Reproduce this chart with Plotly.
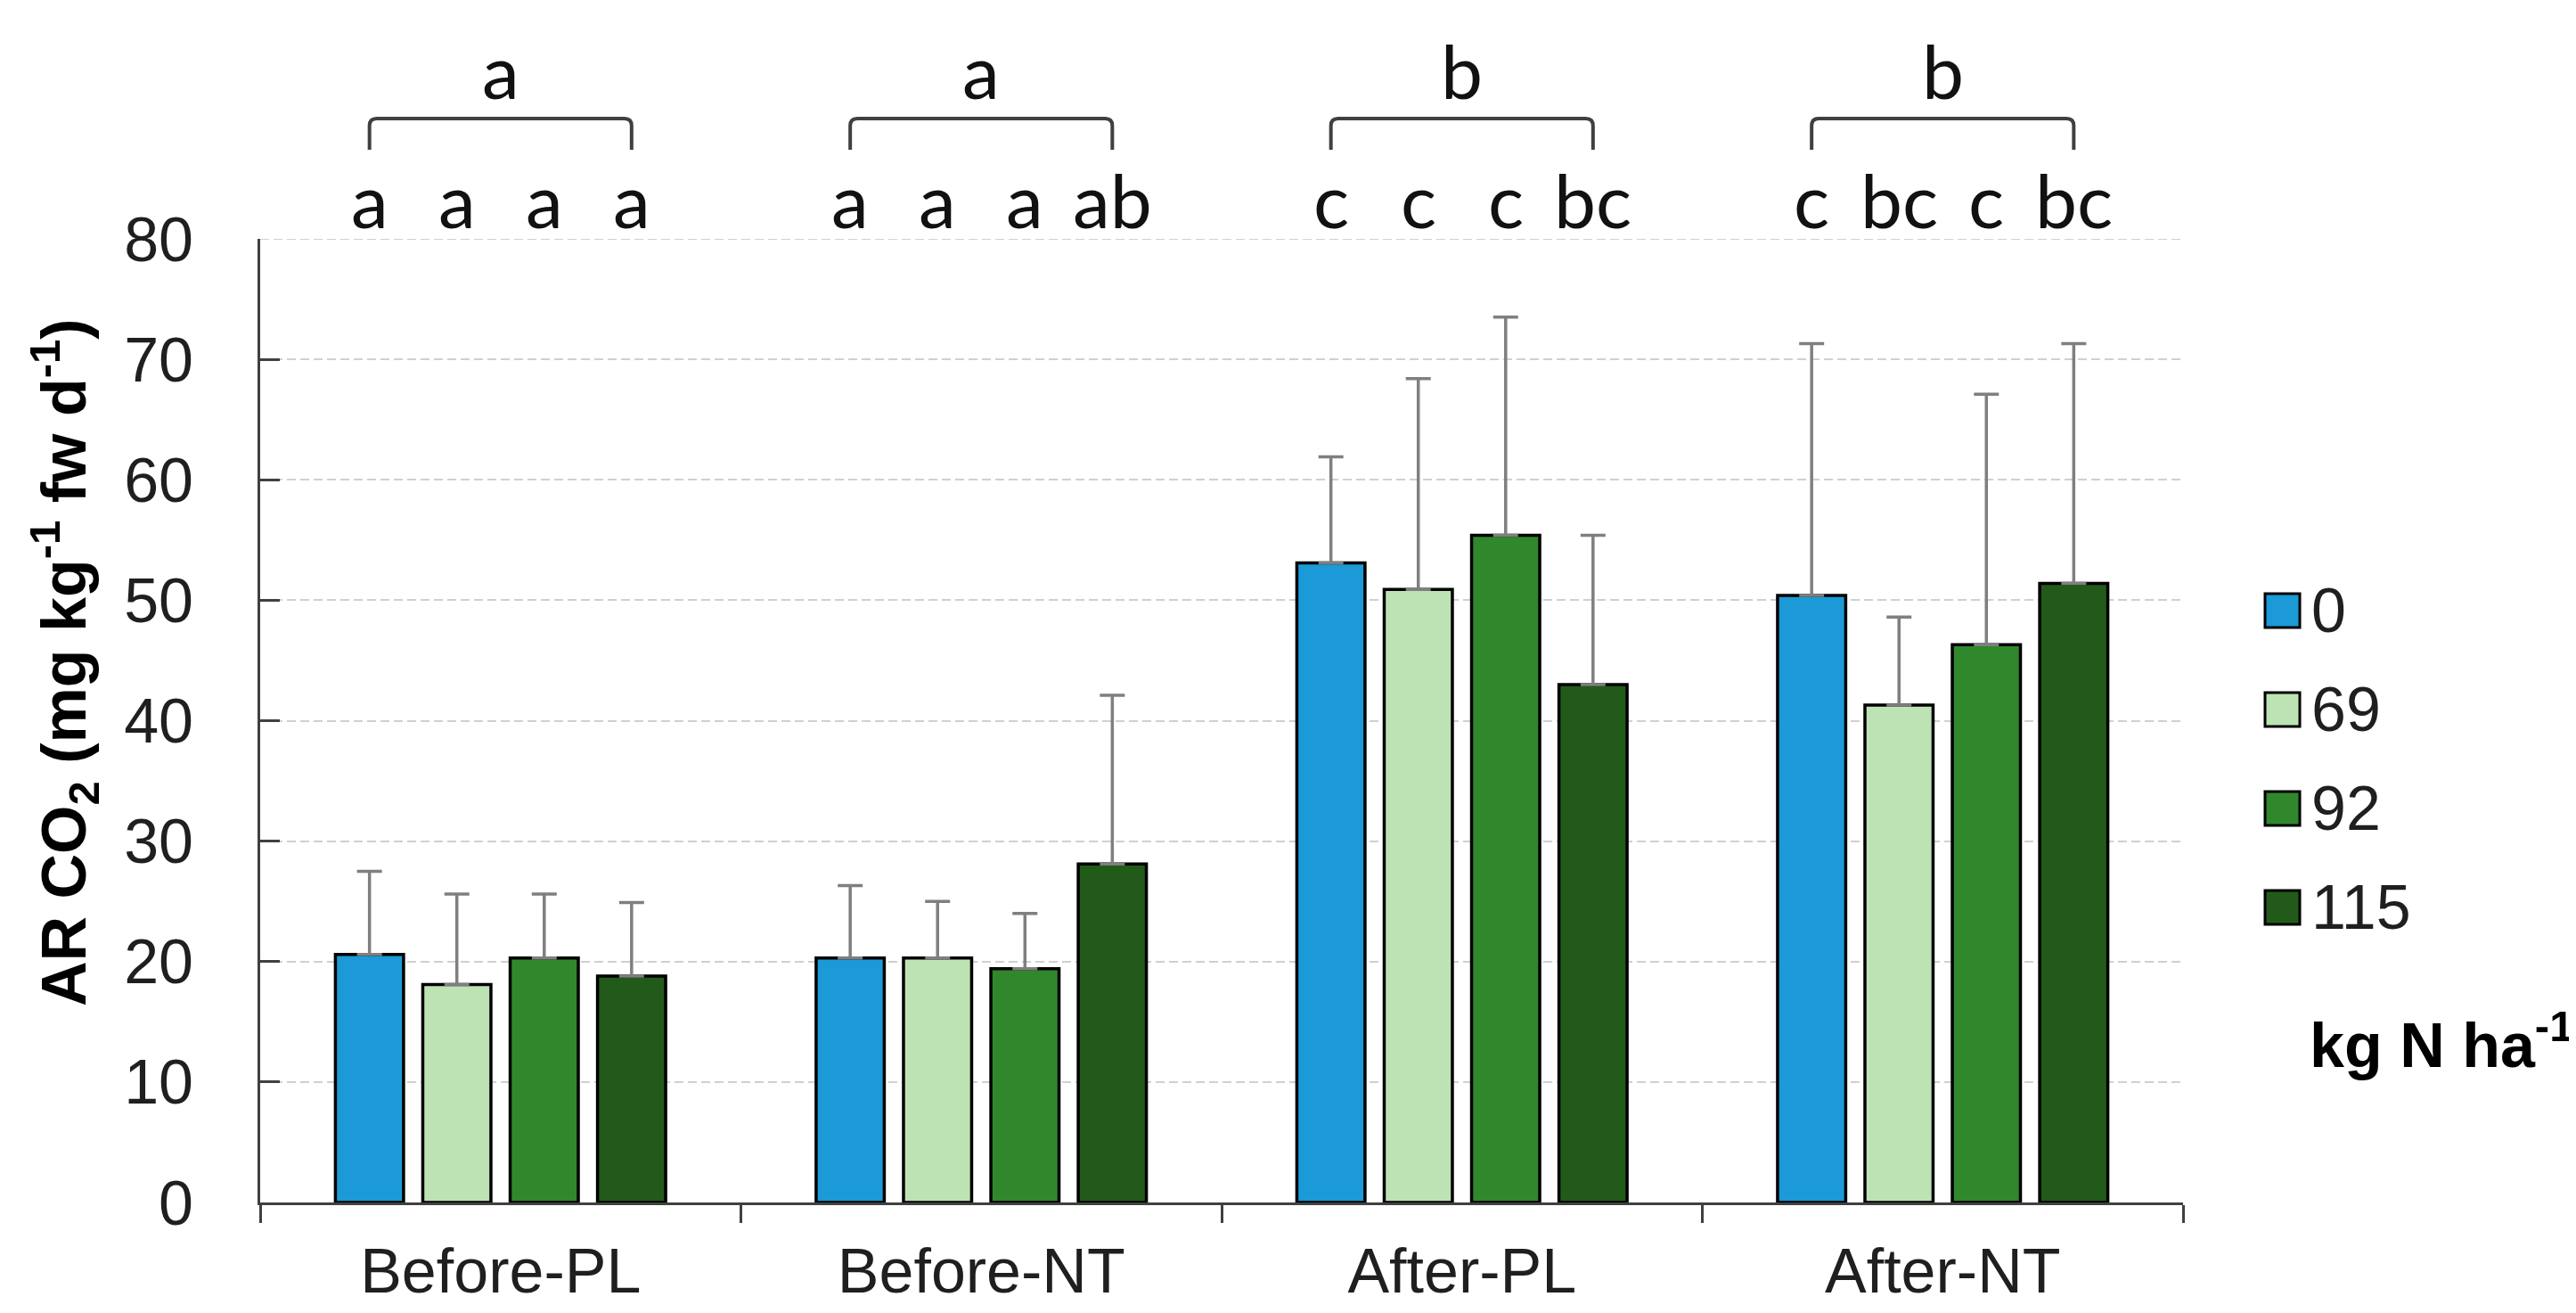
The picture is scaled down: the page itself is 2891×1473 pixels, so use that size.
import plotly.graph_objects as go

# ---------------- data ----------------
categories = ["Before-PL", "Before-NT", "After-PL", "After-NT"]
series_names = ["0", "69", "92", "115"]
colors = ["#1b9ad7", "#bde3b4", "#31872c", "#225a1a"]

values_0 = [20.6, 20.3, 53.1, 50.4]
values_69 = [18.1, 20.3, 50.9, 41.3]
values_92 = [20.3, 19.4, 55.4, 46.3]
values_115 = [18.8, 28.1, 43.0, 51.4]

err_0 = [6.9, 6.0, 8.8, 20.9]
err_69 = [7.5, 4.7, 17.5, 7.3]
err_92 = [5.3, 4.6, 18.1, 20.8]
err_115 = [6.1, 14.0, 12.4, 19.9]

letters_0 = ["a", "a", "c", "c"]
letters_69 = ["a", "a", "c", "bc"]
letters_92 = ["a", "a", "c", "c"]
letters_115 = ["a", "ab", "bc", "bc"]
group_letters = ["a", "a", "b", "b"]

y_ticks = [0, 10, 20, 30, 40, 50, 60, 70, 80]
legend_title = "<b>kg N ha<sup>-1</sup></b>"
y_title = "<b>AR CO<sub>2</sub> (mg kg<sup>-1</sup> fw d<sup>-1</sup>)</b>"

all_values = [values_0, values_69, values_92, values_115]
all_errs = [err_0, err_69, err_92, err_115]
all_letters = [letters_0, letters_69, letters_92, letters_115]

# ---------------- layout constants ----------------
W, H = 2891, 1473
ML, MR, MT, MB = 284, 449, 260, 132
PW = W - ML - MR
PH = H - MT - MB
BARGAP = 0.273
BARGROUPGAP = 0.22
TXT = "#1f1f1f"
AXC = "#404040"
GRID = "#d0d0d0"
FONT = "Arial, Liberation Sans, sans-serif"
LETTER_FONT = "Lato, Open Sans, sans-serif"

n = len(series_names)
slot = (1 - BARGAP) / n


def offset(j):
    return (j - (n - 1) / 2) * slot


def px_to_py(ypx):
    return (MT + PH - ypx) / PH


def px_to_px(xpx):
    return (xpx - ML) / PW


fig = go.Figure()
for j, name in enumerate(series_names):
    fig.add_trace(go.Bar(
        x=categories, y=all_values[j], name=name,
        marker=dict(color=colors[j], line=dict(color="#000000", width=3.5)),
        error_y=dict(type="data", array=all_errs[j], arrayminus=[0] * len(categories),
                     symmetric=False, color="#7f7f7f", thickness=3.5, width=14),
        showlegend=False,
    ))

annotations = []
shapes = []

# dashed gridline at the top of the value axis (plotly hides the edge gridline)
shapes.append(dict(type="line", xref="paper", yref="y", x0=0, x1=1,
                   y0=y_ticks[-1], y1=y_ticks[-1], layer="below",
                   line=dict(color=GRID, width=2, dash="10px,5px")))

# significance letters above each bar
for j in range(n):
    for i, cat in enumerate(categories):
        annotations.append(dict(
            x=i + offset(j), xref="x", y=px_to_py(216), yref="paper",
            text=all_letters[j][i], showarrow=False,
            font=dict(family=LETTER_FONT, size=84, color="#111111"),
            xanchor="center", yanchor="middle",
        ))

# brackets and group letters
for i, cat in enumerate(categories):
    xl = (i + offset(0) + 0.5) / len(categories)
    xr = (i + offset(n - 1) + 0.5) / len(categories)
    yt = px_to_py(125)
    yb = px_to_py(160)
    r_x = 8 / PW
    r_y = 8 / PH
    path = (f"M {xl} {yb} L {xl} {yt - r_y} Q {xl} {yt} {xl + r_x} {yt} "
            f"L {xr - r_x} {yt} Q {xr} {yt} {xr} {yt - r_y} L {xr} {yb}")
    shapes.append(dict(type="path", path=path, xref="paper", yref="paper",
                       line=dict(color=AXC, width=4)))
    annotations.append(dict(
        x=i, xref="x", y=px_to_py(70), yref="paper",
        text=group_letters[i], showarrow=False,
        font=dict(family=LETTER_FONT, size=84, color="#111111"),
        xanchor="center", yanchor="middle",
    ))

# manual legend
for j, name in enumerate(series_names):
    yc = 677 + j * 111
    shapes.append(dict(type="rect", xref="paper", yref="paper",
                       x0=px_to_px(2534), x1=px_to_px(2573),
                       y0=px_to_py(yc + 19), y1=px_to_py(yc - 19),
                       fillcolor=colors[j], line=dict(color="#000000", width=3)))
    annotations.append(dict(
        x=px_to_px(2584), xref="paper", y=px_to_py(yc), yref="paper",
        text=name, showarrow=False, xanchor="left", yanchor="middle",
        font=dict(family=FONT, size=70, color=TXT),
    ))
annotations.append(dict(
    x=px_to_px(2582), xref="paper", y=px_to_py(1160), yref="paper",
    text=legend_title, showarrow=False, xanchor="left", yanchor="middle",
    font=dict(family=FONT, size=70, color="#000000"),
))

# y-axis title
annotations.append(dict(
    x=px_to_px(64), xref="paper", y=px_to_py(735), yref="paper",
    text=y_title, showarrow=False, textangle=-90,
    xanchor="center", yanchor="middle",
    font=dict(family=FONT, size=70, color="#000000"),
))

fig.update_layout(
    width=W, height=H,
    margin=dict(l=ML, r=MR, t=MT, b=MB, autoexpand=False),
    paper_bgcolor="white", plot_bgcolor="white",
    barmode="group", bargap=BARGAP, bargroupgap=BARGROUPGAP,
    annotations=annotations, shapes=shapes,
    showlegend=False,
    font=dict(family=FONT, size=70, color=TXT),
)
fig.update_xaxes(
    type="category", range=[-0.5, len(categories) - 0.5],
    showline=True, linecolor=AXC, linewidth=3,
    ticks="outside", tickson="boundaries", ticklen=20, tickwidth=3, tickcolor=AXC,
    tickfont=dict(family=FONT, size=70, color=TXT),
    ticklabelstandoff=14, showgrid=False, zeroline=False,
)
fig.update_yaxes(
    range=[0, 80], tickvals=y_ticks, ticktext=[str(v) for v in y_ticks],
    showline=True, linecolor=AXC, linewidth=3,
    ticks="inside", ticklen=22, tickwidth=3, tickcolor=AXC,
    tickfont=dict(family=FONT, size=70, color=TXT),
    ticklabelstandoff=58,
    showgrid=True, gridcolor=GRID, gridwidth=2, griddash="10px,5px",
    zeroline=False,
)

fig.write_html("out.html")
